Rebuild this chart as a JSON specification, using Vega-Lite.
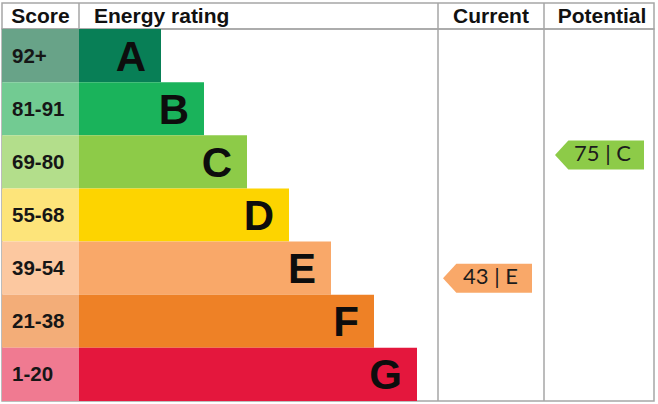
{
  "$schema": "https://vega.github.io/schema/vega-lite/v6.json",
  "background": "white",
  "padding": {"left": 1, "top": 1, "right": 4, "bottom": 4},
  "spacing": 0,
  "bounds": "flush",
  "config": {
    "view": {"stroke": "#a6a6a6", "strokeWidth": 1.5},
    "text": {"font": "Liberation Sans"}
  },
  "datasets": {
    "columns": [
      {"column": "Score"},
      {"column": "Energy rating"},
      {"column": "Current"},
      {"column": "Potential"}
    ],
    "bands": [
      {"rating": "A", "score": "92+", "barLength": 82},
      {"rating": "B", "score": "81-91", "barLength": 125},
      {"rating": "C", "score": "69-80", "barLength": 168},
      {"rating": "D", "score": "55-68", "barLength": 210},
      {"rating": "E", "score": "39-54", "barLength": 252},
      {"rating": "F", "score": "21-38", "barLength": 295},
      {"rating": "G", "score": "1-20", "barLength": 338}
    ],
    "assessments": [
      {"assessment": "Current", "score": 43, "rating": "E", "label": "43 | E"},
      {"assessment": "Potential", "score": 75, "rating": "C", "label": "75 | C"}
    ]
  },
  "vconcat": [
    {
      "width": 652,
      "height": 26,
      "data": {"name": "columns"},
      "layer": [
        {
          "mark": {"type": "text", "fontSize": 21, "fontWeight": "bold", "color": "#111", "baseline": "middle", "align": "center", "dy": 1},
          "transform": [{"filter": "datum.column == 'Score'"}],
          "encoding": {
            "x": {"datum": -38.5, "type": "quantitative", "axis": null, "scale": {"domain": [-77, 575], "nice": false, "zero": false}},
            "text": {"field": "column", "type": "nominal"}
          }
        },
        {
          "mark": {"type": "text", "fontSize": 21, "fontWeight": "bold", "color": "#111", "baseline": "middle", "align": "left", "dy": 1},
          "transform": [{"filter": "datum.column == 'Energy rating'"}],
          "encoding": {
            "x": {"datum": 15, "type": "quantitative", "axis": null},
            "text": {"field": "column", "type": "nominal"}
          }
        },
        {
          "mark": {"type": "text", "fontSize": 21, "fontWeight": "bold", "color": "#111", "baseline": "middle", "align": "center", "dy": 1},
          "transform": [{"filter": "datum.column == 'Current'"}],
          "encoding": {
            "x": {"datum": 412, "type": "quantitative", "axis": null},
            "text": {"field": "column", "type": "nominal"}
          }
        },
        {
          "mark": {"type": "text", "fontSize": 21, "fontWeight": "bold", "color": "#111", "baseline": "middle", "align": "center", "dy": 1},
          "transform": [{"filter": "datum.column == 'Potential'"}],
          "encoding": {
            "x": {"datum": 523, "type": "quantitative", "axis": null},
            "text": {"field": "column", "type": "nominal"}
          }
        },
        {
          "mark": {"type": "rule", "color": "#a6a6a6", "strokeWidth": 1.5},
          "transform": [{"filter": "datum.column == 'Energy rating'"}],
          "encoding": {"x": {"datum": 0, "type": "quantitative", "axis": null}}
        },
        {
          "mark": {"type": "rule", "color": "#a6a6a6", "strokeWidth": 1.5},
          "transform": [{"filter": "datum.column == 'Current'"}],
          "encoding": {"x": {"datum": 359, "type": "quantitative", "axis": null}}
        },
        {
          "mark": {"type": "rule", "color": "#a6a6a6", "strokeWidth": 1.5},
          "transform": [{"filter": "datum.column == 'Potential'"}],
          "encoding": {"x": {"datum": 465, "type": "quantitative", "axis": null}}
        }
      ]
    },
    {
      "width": 652,
      "height": 372,
      "layer": [
        {
          "data": {"name": "bands"},
          "mark": {"type": "bar"},
          "encoding": {
            "y": {"field": "rating", "type": "nominal", "axis": null, "scale": {"type": "band", "paddingInner": 0, "paddingOuter": 0}},
            "x": {"datum": -77, "type": "quantitative", "axis": null, "scale": {"domain": [-77, 575], "nice": false, "zero": false}},
            "x2": {"datum": 0},
            "fill": {
              "field": "rating",
              "type": "nominal",
              "legend": null,
              "scale": {
                "domain": ["A", "B", "C", "D", "E", "F", "G"],
                "range": ["#68a388", "#72cb92", "#b3de8b", "#fde47a", "#fcc8a0", "#f3ad78", "#f07a91"]
              }
            }
          }
        },
        {
          "data": {"name": "bands"},
          "mark": {"type": "bar"},
          "encoding": {
            "y": {"field": "rating", "type": "nominal", "axis": null},
            "x": {"field": "barLength", "type": "quantitative", "axis": null},
            "x2": {"datum": 0},
            "color": {
              "field": "rating",
              "type": "nominal",
              "legend": null,
              "scale": {
                "domain": ["A", "B", "C", "D", "E", "F", "G"],
                "range": ["#087f56", "#1ab35b", "#8dcb48", "#fdd400", "#f9a869", "#ee8126", "#e4173d"]
              }
            }
          }
        },
        {
          "data": {"name": "bands"},
          "mark": {"type": "text", "fontSize": 20.5, "fontWeight": "bold", "color": "#161616", "align": "left", "baseline": "middle", "dy": 1},
          "encoding": {
            "y": {"field": "rating", "type": "nominal", "axis": null},
            "x": {"datum": -67, "type": "quantitative", "axis": null},
            "text": {"field": "score", "type": "nominal"}
          }
        },
        {
          "data": {"name": "bands"},
          "mark": {"type": "text", "fontSize": 42, "fontWeight": "bold", "color": "#0d0d0d", "align": "right", "baseline": "middle", "dx": -15, "dy": 2},
          "encoding": {
            "y": {"field": "rating", "type": "nominal", "axis": null},
            "x": {"field": "barLength", "type": "quantitative", "axis": null},
            "text": {"field": "rating", "type": "nominal"}
          }
        },
        {
          "data": {"name": "assessments"},
          "transform": [{"filter": "datum.assessment == 'Current'"}],
          "mark": {"type": "rule", "color": "#a6a6a6", "strokeWidth": 1.5},
          "encoding": {"x": {"datum": 359, "type": "quantitative", "axis": null}}
        },
        {
          "data": {"name": "assessments"},
          "transform": [{"filter": "datum.assessment == 'Potential'"}],
          "mark": {"type": "rule", "color": "#a6a6a6", "strokeWidth": 1.5},
          "encoding": {"x": {"datum": 465, "type": "quantitative", "axis": null}}
        },
        {
          "data": {"name": "assessments"},
          "transform": [{"filter": "datum.assessment == 'Current'"}],
          "mark": {"type": "point", "filled": true, "opacity": 1, "strokeWidth": 0, "size": 7921, "shape": "M-1,0L-0.7,-0.326L1,-0.326L1,0.326L-0.7,0.326Z"},
          "encoding": {
            "x": {"datum": 408.5, "type": "quantitative", "axis": null},
            "y": {"field": "rating", "type": "nominal", "axis": null, "bandPosition": 0.69},
            "color": {"field": "rating", "type": "nominal", "legend": null}
          }
        },
        {
          "data": {"name": "assessments"},
          "transform": [{"filter": "datum.assessment == 'Current'"}],
          "mark": {"type": "text", "font": "Lato", "fontSize": 22, "color": "#1c1c1c", "align": "center", "baseline": "middle", "dx": 3, "dy": -1},
          "encoding": {
            "x": {"datum": 408.5, "type": "quantitative", "axis": null},
            "y": {"field": "rating", "type": "nominal", "axis": null, "bandPosition": 0.69},
            "text": {"field": "label", "type": "nominal"}
          }
        },
        {
          "data": {"name": "assessments"},
          "transform": [{"filter": "datum.assessment == 'Potential'"}],
          "mark": {"type": "point", "filled": true, "opacity": 1, "strokeWidth": 0, "size": 7921, "shape": "M-1,0L-0.7,-0.326L1,-0.326L1,0.326L-0.7,0.326Z"},
          "encoding": {
            "x": {"datum": 520.5, "type": "quantitative", "axis": null},
            "y": {"field": "rating", "type": "nominal", "axis": null, "bandPosition": 0.37},
            "color": {"field": "rating", "type": "nominal", "legend": null}
          }
        },
        {
          "data": {"name": "assessments"},
          "transform": [{"filter": "datum.assessment == 'Potential'"}],
          "mark": {"type": "text", "font": "Lato", "fontSize": 22, "color": "#1c1c1c", "align": "center", "baseline": "middle", "dx": 3, "dy": -1},
          "encoding": {
            "x": {"datum": 520.5, "type": "quantitative", "axis": null},
            "y": {"field": "rating", "type": "nominal", "axis": null, "bandPosition": 0.37},
            "text": {"field": "label", "type": "nominal"}
          }
        }
      ]
    }
  ]
}
